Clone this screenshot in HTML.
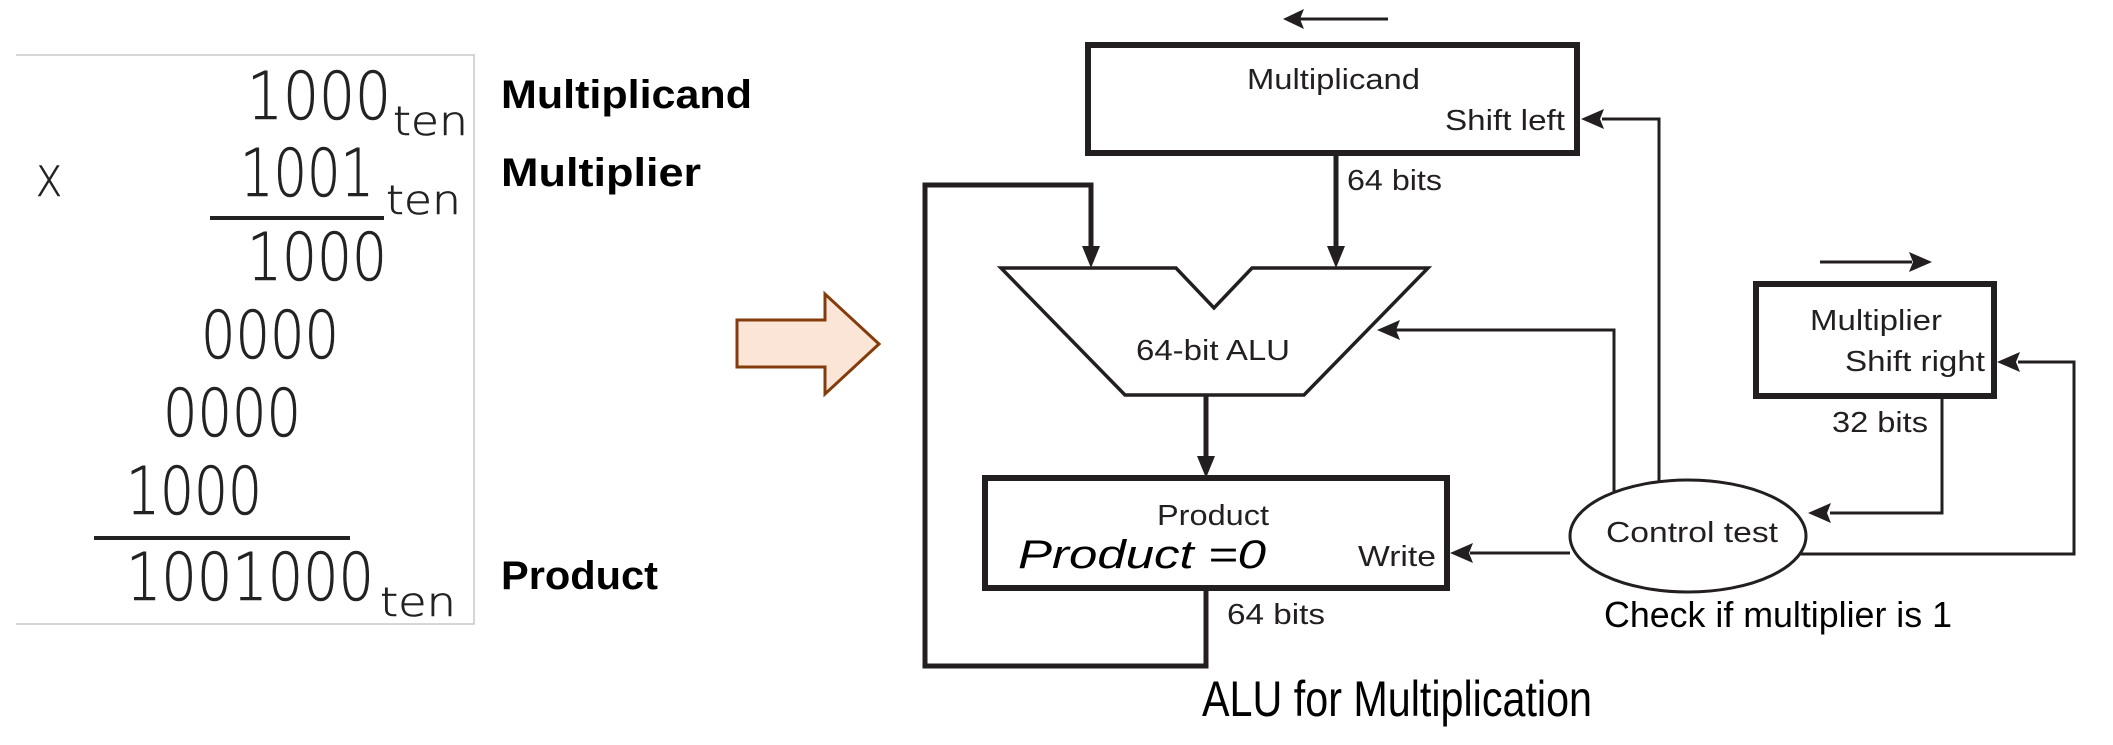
<!DOCTYPE html>
<html><head><meta charset="utf-8"><style>
html,body{margin:0;padding:0;background:#fff;}
svg{display:block;}
.d{font-family:"Liberation Sans",sans-serif;fill:#231f20;}
.n{font-family:"DejaVu Sans","Liberation Sans",sans-serif;font-weight:200;fill:#222;}
.c{font-family:"Liberation Sans",sans-serif;fill:#000;}
</style></head><body>
<svg width="2113" height="745" viewBox="0 0 2113 745" xmlns="http://www.w3.org/2000/svg">
<!-- left panel -->
<polyline points="16,55 474,55 474,624 16,624" fill="none" stroke="#c8c8c8" stroke-width="1.5"/>
<g class="n" font-size="66" stroke="#222" stroke-width="0.6">
<text x="247" y="119" textLength="144" lengthAdjust="spacingAndGlyphs">1000</text>
<text x="393" y="135" font-size="40" textLength="75" lengthAdjust="spacingAndGlyphs">ten</text>
<text x="36" y="196" font-size="42" textLength="26" lengthAdjust="spacingAndGlyphs">X</text>
<text x="240" y="196" textLength="134" lengthAdjust="spacingAndGlyphs">1001</text>
<text x="386" y="214" font-size="40" textLength="75" lengthAdjust="spacingAndGlyphs">ten</text>
<text x="247" y="280" textLength="140" lengthAdjust="spacingAndGlyphs">1000</text>
<text x="201" y="358" textLength="138" lengthAdjust="spacingAndGlyphs">0000</text>
<text x="163" y="436" textLength="138" lengthAdjust="spacingAndGlyphs">0000</text>
<text x="126" y="514" textLength="136" lengthAdjust="spacingAndGlyphs">1000</text>
<text x="126" y="600" textLength="248" lengthAdjust="spacingAndGlyphs">1001000</text>
<text x="380" y="616" font-size="40" textLength="76" lengthAdjust="spacingAndGlyphs">ten</text>
</g>
<rect x="210" y="216" width="174" height="4" fill="#222"/>
<rect x="94" y="536" width="256" height="4" fill="#222"/>
<g class="c" font-weight="bold" font-size="40">
<text x="501" y="108" textLength="251" lengthAdjust="spacingAndGlyphs">Multiplicand</text>
<text x="501" y="186" textLength="200" lengthAdjust="spacingAndGlyphs">Multiplier</text>
<text x="501" y="589" textLength="157" lengthAdjust="spacingAndGlyphs">Product</text>
</g>
<!-- big arrow -->
<polygon points="737,320 825,320 825,294 879,344 825,394 825,367 737,367" fill="#fbe5d6" stroke="#843c0c" stroke-width="3"/>
<!-- diagram -->
<g stroke="#231f20" fill="none">
<rect x="1088" y="45" width="489" height="108" stroke-width="6"/>
<rect x="985" y="478" width="462" height="110" stroke-width="6"/>
<rect x="1756" y="284" width="238" height="112" stroke-width="6"/>
<polygon points="1001,268 1176,268 1214,308 1252,268 1428,268 1304,395 1125,395" stroke-width="3.5"/>
<ellipse cx="1688" cy="536" rx="118" ry="56" stroke-width="3"/>
<line x1="1336" y1="153" x2="1336" y2="250" stroke-width="5"/>
<polyline points="1206,588 1206,666 925,666 925,185 1091,185 1091,250" stroke-width="5"/>
<line x1="1206" y1="395" x2="1206" y2="460" stroke-width="5"/>
<line x1="1300" y1="19" x2="1388" y2="19" stroke-width="3"/>
<polyline points="1659,482 1659,119 1602,119" stroke-width="3"/>
<polyline points="1614,492 1614,330 1396,330" stroke-width="3"/>
<line x1="1570" y1="553" x2="1470" y2="553" stroke-width="3"/>
<line x1="1820" y1="262" x2="1912" y2="262" stroke-width="3"/>
<polyline points="1942,396 1942,513 1830,513" stroke-width="3"/>
<polyline points="1800,554 2074,554 2074,362 2018,362" stroke-width="3"/>
</g>
<g fill="#231f20">
<polygon points="1283,19 1304,9 1300,19 1304,29"/>
<polygon points="1336,268 1327,246 1345,246"/>
<polygon points="1091,268 1082,246 1100,246"/>
<polygon points="1206,478 1197,456 1215,456"/>
<polygon points="1581,119 1604,109 1600,119 1604,129"/>
<polygon points="1377,330 1400,320 1396,330 1400,340"/>
<polygon points="1450,553 1473,543 1469,553 1473,563"/>
<polygon points="1932,262 1909,252 1913,262 1909,272"/>
<polygon points="1808,513 1831,503 1827,513 1831,523"/>
<polygon points="1997,362 2020,352 2016,362 2020,372"/>
</g>
<g class="d" font-size="29">
<text x="1247" y="89" textLength="173" lengthAdjust="spacingAndGlyphs">Multiplicand</text>
<text x="1445" y="130" textLength="120" lengthAdjust="spacingAndGlyphs">Shift left</text>
<text x="1347" y="190" textLength="95" lengthAdjust="spacingAndGlyphs">64 bits</text>
<text x="1136" y="360" textLength="154" lengthAdjust="spacingAndGlyphs">64-bit ALU</text>
<text x="1157" y="525" textLength="112" lengthAdjust="spacingAndGlyphs">Product</text>
<text x="1358" y="566" textLength="78" lengthAdjust="spacingAndGlyphs">Write</text>
<text x="1227" y="624" textLength="98" lengthAdjust="spacingAndGlyphs">64 bits</text>
<text x="1606" y="542" textLength="172" lengthAdjust="spacingAndGlyphs">Control test</text>
<text x="1810" y="330" textLength="132" lengthAdjust="spacingAndGlyphs">Multiplier</text>
<text x="1845" y="371" textLength="140" lengthAdjust="spacingAndGlyphs">Shift right</text>
<text x="1832" y="432" textLength="96" lengthAdjust="spacingAndGlyphs">32 bits</text>
</g>
<text class="c" x="1018" y="568" font-size="40" font-style="italic" textLength="248" lengthAdjust="spacingAndGlyphs">Product =0</text>
<text class="c" x="1604" y="627" font-size="36" textLength="348" lengthAdjust="spacingAndGlyphs">Check if multiplier is 1</text>
<text class="c" x="1202" y="716" font-size="50" textLength="390" lengthAdjust="spacingAndGlyphs">ALU for Multiplication</text>
</svg>
</body></html>
